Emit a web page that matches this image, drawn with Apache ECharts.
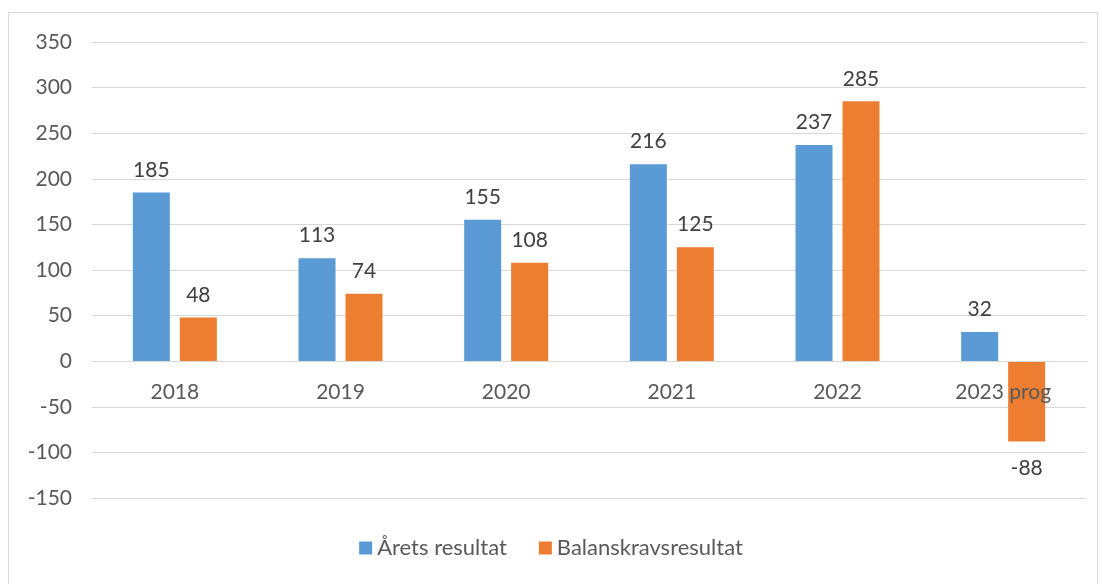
<!DOCTYPE html>
<html>
<head>
<meta charset="utf-8">
<script src="https://cdn.jsdelivr.net/npm/echarts@6/dist/echarts.min.js"></script>
<style>
  html, body { margin: 0; padding: 0; background: #fff; }
  #frame { position: absolute; left: 8px; top: 12px; width: 1090px; height: 580px; border: 1px solid #d9d9d9; box-sizing: border-box; }
  #chart { position: absolute; left: 0; top: 0; width: 1102px; height: 584px; }
</style>
</head>
<body>
<div id="frame"></div>
<div id="chart"></div>
<script>
const categories = ['2018', '2019', '2020', '2021', '2022', '2023 prog']
const aretsResultat = [185, 113, 155, 216, 237, 32]
const balanskrav = [48, 74, 108, 125, 285, -88]
const yTicks = { min: -150, max: 350, interval: 50 }

const font = 'Lato, "Open Sans", sans-serif'
const chart = echarts.init(document.getElementById('chart'))

const labelStyle = {
  show: true,
  color: '#404040',
  fontSize: 21,
  fontFamily: font,
  distance: 12
}

// negative values get their label below the bar
function withLabels(arr) {
  return arr.map(function (v) {
    return v < 0 ? { value: v, label: { position: 'bottom', distance: 16 } } : v
  })
}

chart.setOption({
  animation: false,
  grid: { left: 92, right: 16, top: 42, bottom: 86 },
  legend: {
    bottom: 20,
    left: 'center',
    itemWidth: 13,
    itemHeight: 13,
    itemGap: 32,
    icon: 'rect',
    textStyle: { color: '#595959', fontSize: 22, fontFamily: font },
    data: ['Årets resultat', 'Balanskravsresultat']
  },
  xAxis: {
    type: 'category',
    data: categories,
    axisLine: { onZero: false, lineStyle: { color: '#d9d9d9' } },
    axisTick: { show: false },
    axisLabel: { color: '#595959', fontSize: 21, fontFamily: font, margin: 21 },
    z: 5
  },
  yAxis: {
    type: 'value',
    min: yTicks.min,
    max: yTicks.max,
    interval: yTicks.interval,
    axisLine: { show: false },
    axisTick: { show: false },
    axisLabel: { color: '#595959', fontSize: 21, fontFamily: font, margin: 20 },
    splitLine: { lineStyle: { color: '#d9d9d9', width: 1 } }
  },
  series: [{
    name: 'Årets resultat',
    type: 'bar',
    data: withLabels(aretsResultat),
    barWidth: 37,
    barGap: '27%',
    itemStyle: { color: '#5b9bd5' },
    label: Object.assign({ position: 'top' }, labelStyle)
  }, {
    name: 'Balanskravsresultat',
    type: 'bar',
    data: withLabels(balanskrav),
    barWidth: 37,
    itemStyle: { color: '#ed7d31' },
    label: Object.assign({ position: 'top' }, labelStyle)
  }]
})

// move the category axis up to the zero line, using the chart's own scale
const zeroY = chart.convertToPixel({ yAxisIndex: 0 }, 0)
const bottomY = chart.convertToPixel({ yAxisIndex: 0 }, yTicks.min)
chart.setOption({ xAxis: { offset: zeroY - bottomY } })
</script>
</body>
</html>
